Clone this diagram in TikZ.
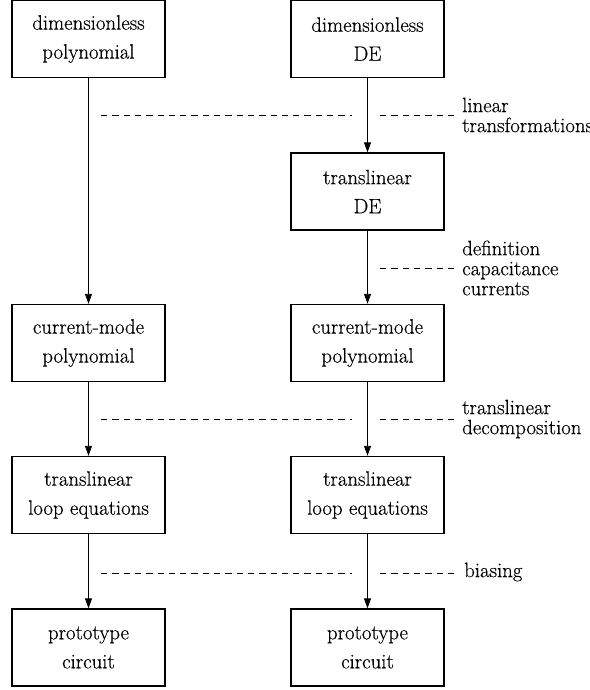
\documentclass[tikz,border=0pt]{standalone}
\usepackage{fontspec}
\setmainfont{Latin Modern Roman}[FakeBold=0.35]
\usetikzlibrary{arrows.meta}
\begin{document}
\begin{tikzpicture}[x=1pt,y=-1pt,
  box/.style={draw,line width=1.4pt,minimum width=153pt,minimum height=77pt,inner sep=0pt,align=center,font=\rmfamily\fontsize{20.8}{29}\selectfont},
  lbl/.style={anchor=west,inner sep=0pt,align=left,font=\rmfamily\fontsize{20.8}{20}\selectfont},
  conn/.style={line width=0.9pt,-{Triangle[length=10pt,width=7pt]}},
  dsh/.style={line width=0.9pt,dash pattern=on 6.3pt off 5pt}]
\useasboundingbox (0,0) rectangle (589,690);
% boxes
\node[box] (l1) at (88.5,39) {dimensionless\\polynomial};
\node[box] (r1) at (367.5,39) {dimensionless\\DE};
\node[box] (r2) at (367.5,191.5) {translinear\\DE};
\node[box] (l3) at (88.5,343) {current-mode\\polynomial};
\node[box] (r3) at (367.5,343) {current-mode\\polynomial};
\node[box] (l4) at (88.5,495) {translinear\\loop equations};
\node[box] (r4) at (367.5,495) {translinear\\loop equations};
\node[box] (l5) at (88.5,647.5) {prototype\\circuit};
\node[box] (r5) at (367.5,647.5) {prototype\\circuit};
% arrows
\draw[conn] (l1) -- (l3);
\draw[conn] (l3) -- (l4);
\draw[conn] (l4) -- (l5);
\draw[conn] (r1) -- (r2);
\draw[conn] (r2) -- (r3);
\draw[conn] (r3) -- (r4);
\draw[conn] (r4) -- (r5);
% labels
\node[lbl] (t1) at (462,115) {linear\\transformations};
\node[lbl] (t2) at (462,268) {definition\\capacitance\\currents};
\node[lbl] (t3) at (462,419) {translinear\\decomposition};
\node[lbl] (t4) at (464,572) {biasing};
% dashed coordinates
\coordinate (a1) at (101,115); \coordinate (b1) at (352,115);
\coordinate (c1) at (380,115); \coordinate (e1) at (456,115);
\coordinate (c2) at (380,268); \coordinate (e2) at (456,268);
\coordinate (a3) at (101,419); \coordinate (b3) at (352,419);
\coordinate (c3) at (380,419); \coordinate (e3) at (456,419);
\coordinate (a4) at (101,573); \coordinate (b4) at (352,573);
\coordinate (c4) at (380,573); \coordinate (e4) at (457,573);
\draw[dsh] (a1) -- (b1); \draw[dsh] (c1) -- (e1);
\draw[dsh] (c2) -- (e2);
\draw[dsh] (a3) -- (b3); \draw[dsh] (c3) -- (e3);
\draw[dsh] (a4) -- (b4); \draw[dsh] (c4) -- (e4);
\end{tikzpicture}
\end{document}
